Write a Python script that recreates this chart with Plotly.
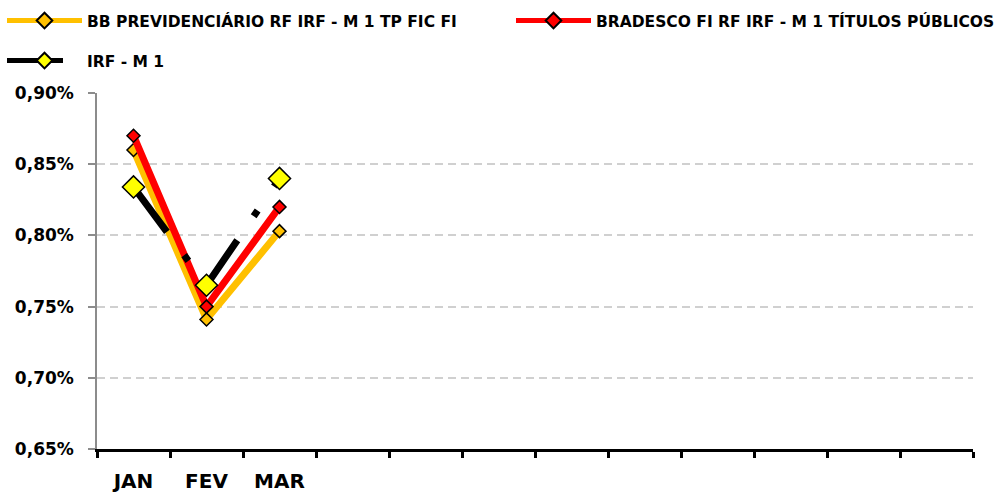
import plotly.graph_objects as go

MONTHS = ["JAN", "FEV", "MAR", "ABR", "MAI", "JUN", "JUL", "AGO", "SET", "OUT", "NOV", "DEZ"]
MONTH_LABELS = ["JAN", "FEV", "MAR"]
BB = [0.860, 0.741, 0.803]          # % a.m.
BRADESCO = [0.870, 0.750, 0.820]    # % a.m.
IRF_M1 = [0.834, 0.765, 0.840]      # % a.m.
NAMES = ["BB PREVIDENCIÁRIO RF IRF - M 1 TP FIC FI",
         "BRADESCO FI RF IRF - M 1 TÍTULOS PÚBLICOS",
         "IRF - M 1"]
Y_TICKS = [0.65, 0.70, 0.75, 0.80, 0.85, 0.90]

FONT = "DejaVu Sans"
idx = list(range(len(MONTH_LABELS)))

W, H = 997, 494
ML, MR, MT, MB = 97, 24, 93, 45
PW, PH = W - ML - MR, H - MT - MB


def px_x(p):
    return (p - ML) / PW


def px_y(p):
    return 1 + (MT - p) / PH


fig = go.Figure()
fig.add_trace(go.Scatter(
    x=idx, y=[v / 100 for v in BB], name=NAMES[0], mode="lines+markers",
    line=dict(color="#FFC000", width=7),
    marker=dict(symbol="diamond", size=10, color="#FFC000", line=dict(color="black", width=1.5)),
    legend="legend"))
fig.add_trace(go.Scatter(
    x=idx, y=[v / 100 for v in BRADESCO], name=NAMES[1], mode="lines+markers",
    line=dict(color="#FF0000", width=7),
    marker=dict(symbol="diamond", size=10, color="#FF0000", line=dict(color="black", width=1.5)),
    legend="legend2"))
fig.add_trace(go.Scatter(
    x=idx, y=[v / 100 for v in IRF_M1], name=NAMES[2], mode="lines+markers",
    line=dict(color="black", width=7, dash="56px,29px,7px,29px"),
    marker=dict(symbol="diamond", size=17, color="#FFFF00", line=dict(color="black", width=1.5)),
    legend="legend3"))

leg_common = dict(font=dict(family=FONT, size=15.5, color="black", weight="bold"),
                  bgcolor="rgba(0,0,0,0)", xanchor="left", yanchor="middle",
                  itemwidth=75, orientation="v", itemsizing="constant")
fig.update_layout(
    width=W, height=H,
    paper_bgcolor="white", plot_bgcolor="white",
    margin=dict(l=ML, r=MR, t=MT, b=MB, autoexpand=False),
    separators=",.",
    showlegend=True,
    legend=dict(x=px_x(2), y=px_y(21), **leg_common),
    legend2=dict(x=px_x(511), y=px_y(21), **leg_common),
    legend3=dict(x=px_x(2), y=px_y(61), **leg_common),
    xaxis=dict(
        range=[-0.5, len(MONTHS) - 0.5],
        tickmode="array", tickvals=idx, ticktext=MONTH_LABELS,
        ticks="", showgrid=False, zeroline=False,
        showline=True, linecolor="black", linewidth=3,
        tickfont=dict(family=FONT, size=20, color="black", weight="bold"),
        ticklabelstandoff=12,
        minor=dict(tickvals=[i - 0.5 for i in range(len(MONTHS) + 1)], ticks="outside",
                   ticklen=6, tickwidth=3, tickcolor="black", showgrid=False),
    ),
    yaxis=dict(
        range=[Y_TICKS[0] / 100, Y_TICKS[-1] / 100],
        tickmode="array", tickvals=[v / 100 for v in Y_TICKS], tickformat=".2%",
        showgrid=True, gridcolor="#D0D0D0", gridwidth=2, griddash="8px,5px",
        zeroline=False, showline=True, linecolor="#8C8C8C", linewidth=1.5,
        ticks="outside", ticklen=7, tickcolor="#8C8C8C", tickwidth=1.5,
        tickfont=dict(family=FONT, size=17, color="black", weight="bold"),
        ticklabelstandoff=11,
    ),
)

fig.write_html("out.html", config={"displayModeBar": False},
               post_script="document.body.style.margin='0';document.body.style.padding='0';")
